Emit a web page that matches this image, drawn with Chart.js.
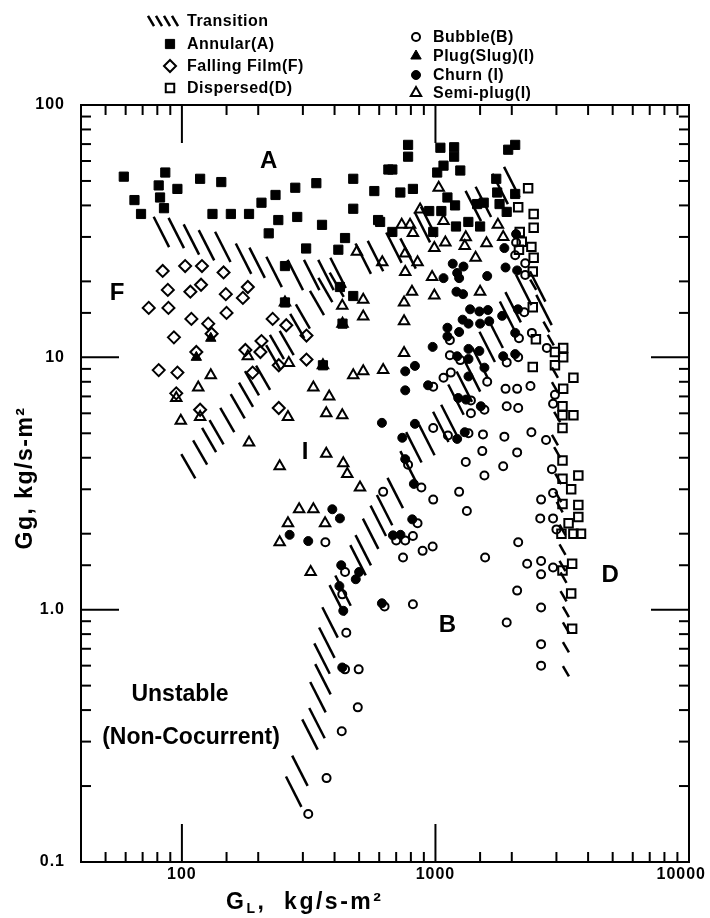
<!DOCTYPE html>
<html>
<head>
<meta charset="utf-8">
<script src="https://cdn.jsdelivr.net/npm/chart.js@4"></script>
<style>
  html, body { margin: 0; padding: 0; background: #fff; }
  canvas { display: block; }
</style>
</head>
<body>
<canvas id="grafico" width="710" height="918"></canvas>
<script>
// Datos: [G_L, Gg]

const annular = [[59,52],[65,42],[69,37],[81,48],[86,54],[82,43],[85,39],[96,46.5],[118,51],[143,49.5],[132,37],[156,37],[184,37],[206,41],[234,44],[220,31],[240,35],[280,47],[285,36],[339,49],[357,33.5],[309,27],[414,26.7],[440,29.7],[474,38.8],[474,51],[574,45.6],[594,35],[652,55.5],[255,23],[420,19],[474,17.5],[255,16.5],[430,13.6],[360,9.3],[780,69.5],[780,62.4],[1046,67.7],[1185,68],[1185,62.4],[1076,57.5],[1016,54],[1253,55],[676,55.5],[727,45],[815,46.5],[2063,69.5],[1936,66.5],[1737,51],[1752,45],[2063,44.4],[945,38],[1055,38],[1195,40],[1348,34.4],[1500,33],[1460,40.5],[1790,40.5],[1910,37.7],[980,31.4],[1205,33],[676,31.4],[605,34.4],[1115,43],[1550,41]];

const fallingFilm = [[84,22],[103,23],[120,23],[146,21.7],[88,18.5],[108,18.2],[119,19.4],[149,17.8],[182,19],[174,17.2],[74,15.7],[88.5,15.7],[109,14.2],[127,13.6],[150,15],[93,12],[131,12.4],[114,10.5],[178,10.7],[206,11.6],[204,10.5],[228,14.2],[258,13.4],[310,12.2],[310,9.8],[81,8.9],[96,8.7],[95,7.2],[118,6.2],[190,8.7],[241,9.3],[241,6.3]];

const dispersed = [[2320,46.8],[2120,39.3],[2440,37],[2440,32.6],[2150,31.4],[2190,28.7],[2390,27.4],[2440,24.8],[2420,21.9],[2135,26.7],[2420,15.8],[2490,11.8],[2960,10.5],[3190,10.9],[3190,10],[2420,9.15],[2960,9.3],[3500,8.3],[3190,7.5],[3170,6.4],[3500,5.9],[3170,5.9],[3170,5.25],[3170,3.9],[3170,3.3],[3660,3.4],[3430,3.0],[3660,2.6],[3170,2.62],[3660,2.33],[3350,2.2],[3140,2.0],[3500,2.0],[3750,2.0],[3460,1.52],[3170,1.43],[3430,1.16],[3460,0.84]];

const bubble = [[2080,28.5],[2063,25.4],[2260,23.6],[2260,21.2],[2240,15.1],[2135,11.9],[2400,12.5],[1140,11.7],[1140,10.2],[1253,9.75],[1910,9.55],[2120,10],[2750,10.9],[1076,8.3],[1150,8.7],[1600,8],[980,7.65],[1890,7.5],[2100,7.5],[2370,7.7],[2960,7.1],[2910,6.55],[1380,6.75],[1380,6.0],[1560,6.2],[1910,6.4],[2120,6.3],[980,5.25],[1120,4.9],[1350,5.0],[1540,4.95],[1870,4.85],[2390,5.05],[2730,4.7],[1530,4.25],[2100,4.2],[1317,3.85],[1850,3.7],[1560,3.4],[780,3.75],[2880,3.6],[880,3.05],[622,2.93],[1240,2.93],[980,2.73],[1330,2.46],[2610,2.73],[2910,2.9],[2590,2.3],[2910,2.3],[3000,2.08],[850,2.2],[700,1.88],[760,1.88],[815,1.96],[745,1.61],[890,1.71],[975,1.78],[1570,1.61],[2120,1.85],[2300,1.52],[2610,1.56],[2910,1.47],[2610,1.38],[2100,1.19],[630,1.03],[815,1.05],[2610,1.02],[1910,0.89],[2610,0.73],[2610,0.6],[368,1.85],[440,1.41],[429,1.15],[445,0.81],[440,0.58],[498,0.58],[494,0.41],[427,0.33],[372,0.215],[315,0.155]];

const plug = [[130,11.9],[114,10]];

const churn = [[615,5.5],[392,2.5],[420,2.3],[266,1.98],[315,1.87],[425,1.5],[500,1.41],[485,1.32],[418,1.24],[433,0.99],[429,0.59],[615,1.06],[1218,21.6],[1290,22.9],[1170,23.5],[1076,20.6],[1240,20.6],[1600,21],[1870,27.1],[1890,22.7],[2100,22.1],[2080,30.8],[1210,18.2],[1285,17.8],[1370,15.5],[1490,15.2],[1610,15.4],[1833,14.6],[2115,15.5],[1280,14.1],[1350,13.6],[1500,13.6],[1630,13.9],[1115,13.1],[1240,12.6],[1115,12.1],[2063,12.5],[975,11],[1350,10.8],[1490,10.6],[1218,10.1],[1350,9.85],[1850,10.1],[2063,10.3],[1560,9.1],[830,9.25],[760,8.8],[1350,8.4],[935,7.75],[760,7.4],[1230,6.9],[1320,6.8],[1510,6.4],[830,5.45],[740,4.8],[1218,4.75],[1305,5.05],[760,3.95],[822,3.15],[810,2.28],[680,1.97],[728,1.98]];

const semiPlug = [[116,7.6],[130,8.5],[99,5.6],[118,5.8],[184,4.6],[243,3.7],[264,9.5],[262,5.8],[330,7.6],[381,7.0],[371,6.0],[429,5.9],[371,4.15],[433,3.8],[449,3.45],[504,3.05],[474,8.5],[519,8.8],[622,8.9],[519,14.5],[519,16.9],[429,16],[182,10.1],[95,6.9],[290,2.5],[330,2.5],[490,26.2],[617,23.8],[262,2.2],[367,2.2],[243,1.85],[322,1.41],[870,38.5],[1076,34.7],[736,33.5],[794,33.5],[815,31.1],[1094,28.5],[990,27.1],[1305,27.6],[1317,29.9],[1763,33.5],[1850,30],[760,25.8],[850,23.8],[760,21.8],[970,20.8],[1440,24.8],[1590,28.3],[1500,18.2],[1030,47],[808,18.2],[990,17.6],[752,16.5],[752,13.9],[752,10.4],[255,16.5],[430,13.6],[360,9.3]];

// Zonas de transicion (rayado)
const transicionLarga = [[83,31.4],[95,31.1],[109,29.3],[125,27.8],[145,27.4],[175,24.6],[198,23.7],[231,21.8],[280,21.2],[325,21.2],[370,21.2],[413,21.6],[519,24.6],[580,25.2],[686,27.2],[780,25.8],[888,32.8],[940,34.4],[1410,39.8],[1545,41.3],[1800,46.5],[2000,49.5],[276,0.19],[292,0.23],[320,0.32],[341,0.355],[344,0.45],[360,0.53],[357,0.64],[373,0.74],[384,0.89],[410,1.09],[432,1.19],[495,1.57],[519,1.72],[555,2.0],[595,2.25],[630,2.48],[694,2.9],[780,3.7],[822,4.4],[925,4.7],[1050,5.3],[1130,5.65],[1205,6.8],[1300,7.65],[1400,8.4],[1500,9.5],[1600,11],[1720,12.5],[1925,14.5],[2025,15.8],[2230,18.5],[2530,19.1],[2680,15.4]];
const transicionMedia = [[106,3.7],[118,4.2],[128,4.7],[137,5.05],[151,5.65],[166,6.4],[179,7.1],[189,7.9],[209,8.3],[229,10],[237,11],[259,11.4],[285,13.3],[300,14.5],[341,16.4],[368,18.5],[408,19.4]];
const transicionCorta = [[2430,19.4],[2740,13.2],[2850,11.7],[2960,8.7],[2960,7.6],[3020,5.8],[2960,4.7],[3020,4.2],[3050,3.3],[3050,2.8],[3090,2.55],[3170,2.07],[3170,1.73],[3170,1.49],[3200,1.34],[3200,1.13],[3270,0.98],[3270,0.85],[3270,0.71],[3270,0.57]];

// Ejes
const xMin = 40, xMax = 10000;
const yMin = 0.1, yMax = 100;
const xTickLabels = [[100, '100'], [1000, '1000'], [10000, '10000']];
const yTickLabels = [[0.1, '0.1'], [1, '1.0'], [10, '10'], [100, '100']];

const regiones = [
  ['A', 220, 60], ['F', 55.5, 18], ['I', 306, 4.2], ['B', 1115, 0.87], ['D', 4885, 1.37]
];

const toXY = (arr) => arr.map(([x, y]) => ({ x, y }));
const NEGRO = '#000';
const FONT = '"Liberation Sans", Arial, sans-serif';

const hueco = 'rgba(0,0,0,0)';
const series = [
  { label: 'Annular(A)', data: annular, pointStyle: 'rect', pointRadius: 6.5, bg: NEGRO, bw: 1 },
  { label: 'Falling Film(F)', data: fallingFilm, pointStyle: 'rectRot', pointRadius: 6, bg: hueco, bw: 2 },
  { label: 'Dispersed(D)', data: dispersed, pointStyle: 'rect', pointRadius: 6, bg: hueco, bw: 2 },
  { label: 'Bubble(B)', data: bubble, pointStyle: 'circle', pointRadius: 4, bg: hueco, bw: 2 },
  { label: 'Plug(Slug)(I)', data: plug, pointStyle: 'triangle', pointRadius: 6, bg: NEGRO, bw: 1 },
  { label: 'Churn (I)', data: churn, pointStyle: 'circle', pointRadius: 4.5, bg: NEGRO, bw: 1 },
  { label: 'Semi-plug(I)', data: semiPlug, pointStyle: 'triangle', pointRadius: 6, bg: hueco, bw: 2 },
  { label: 'Transition', data: transicionLarga, pointStyle: 'line', pointRadius: 17, bg: NEGRO, bw: 2.5, rot: 63 },
  { label: 'Transition', data: transicionMedia, pointStyle: 'line', pointRadius: 14, bg: NEGRO, bw: 2.5, rot: 60 },
  { label: 'Transition', data: transicionCorta, pointStyle: 'line', pointRadius: 6, bg: NEGRO, bw: 2.5, rot: 60 }
];

const esMayor = (v) => Math.abs(Math.log10(v) - Math.round(Math.log10(v))) < 1e-6;

function linea(ctx, x1, y1, x2, y2) {
  ctx.beginPath();
  ctx.moveTo(x1, y1);
  ctx.lineTo(x2, y2);
  ctx.stroke();
}

// Dibujo el marco, las marcas, los textos y la leyenda
const decoracion = {
  id: 'decoracion',
  afterDraw(chart) {
    const { ctx, chartArea: a, scales: { x, y } } = chart;
    ctx.save();
    ctx.strokeStyle = NEGRO;
    ctx.fillStyle = NEGRO;
    ctx.lineWidth = 2;
    ctx.strokeRect(a.left, a.top, a.right - a.left, a.bottom - a.top);

    x.ticks.forEach((t) => {
      if (t.value <= xMin || t.value >= xMax) return;
      const px = x.getPixelForValue(t.value);
      const len = esMayor(t.value) ? 38 : 10;
      linea(ctx, px, a.bottom, px, a.bottom - len);
      linea(ctx, px, a.top, px, a.top + len);
    });
    y.ticks.forEach((t) => {
      if (t.value <= yMin * 1.0001 || t.value >= yMax * 0.9999) return;
      const py = y.getPixelForValue(t.value);
      const len = esMayor(t.value) ? 38 : 10;
      linea(ctx, a.left, py, a.left + len, py);
      linea(ctx, a.right, py, a.right - len, py);
    });

    ctx.font = 'bold 16px ' + FONT;
    ctx.letterSpacing = '1px';
    ctx.textBaseline = 'middle';
    xTickLabels.forEach(([v, txt]) => {
      const px = x.getPixelForValue(v);
      if (v === xMax) {
        ctx.textAlign = 'right';
        ctx.fillText(txt, px + 17, a.bottom + 13);
      } else {
        ctx.textAlign = 'center';
        ctx.fillText(txt, px, a.bottom + 13);
      }
    });
    ctx.textAlign = 'right';
    yTickLabels.forEach(([v, txt]) => {
      ctx.fillText(txt, a.left - 16, y.getPixelForValue(v));
    });

    // Titulos de los ejes
    ctx.font = 'bold 23px ' + FONT;
    ctx.letterSpacing = '2.5px';
    ctx.textAlign = 'left';
    let tx = 226, ty = 903;
    ctx.fillText('G', tx, ty);
    tx += ctx.measureText('G').width;
    ctx.font = 'bold 14px ' + FONT;
    ctx.fillText('L', tx, ty + 6);
    tx += ctx.measureText('L').width;
    ctx.font = 'bold 23px ' + FONT;
    ctx.fillText(',  kg/s-m²', tx, ty);

    ctx.letterSpacing = '1.5px';
    ctx.save();
    ctx.translate(26, 478);
    ctx.rotate(-Math.PI / 2);
    ctx.textAlign = 'center';
    ctx.fillText('Gg, kg/s-m²', 0, 0);
    ctx.restore();

    // Letras de las regiones
    ctx.font = 'bold 24px ' + FONT;
    ctx.letterSpacing = '0px';
    ctx.textAlign = 'center';
    regiones.forEach(([txt, vx, vy]) => {
      ctx.fillText(txt, x.getPixelForValue(vx), y.getPixelForValue(vy));
    });
    ctx.font = 'bold 23px ' + FONT;
    ctx.fillText('Unstable', 180, 695);
    ctx.fillText('(Non-Cocurrent)', 191, 738);

    // Leyenda
    const items = [
      [series[0], 170, 44], [series[1], 170, 66], [series[2], 170, 88],
      [series[3], 416, 37], [series[4], 416, 56], [series[5], 416, 75], [series[6], 416, 93]
    ];
    ctx.font = 'bold 16px ' + FONT;
    ctx.letterSpacing = '0.5px';
    ctx.textAlign = 'left';
    items.forEach(([s, lx, ly]) => {
      ctx.lineWidth = s.bw;
      ctx.fillStyle = s.bg;
      Chart.helpers.drawPoint(ctx, { pointStyle: s.pointStyle, radius: s.pointRadius, rotation: 0, borderWidth: s.bw }, lx, ly);
      ctx.fillStyle = NEGRO;
      ctx.fillText(s.label, lx + 17, ly + 1);
    });
    ctx.lineWidth = 2.5;
    [151, 159, 167, 175].forEach((lx) => {
      Chart.helpers.drawPoint(ctx, { pointStyle: 'line', radius: 6, rotation: 60, borderWidth: 2.5 }, lx, 21);
    });
    ctx.fillText('Transition', 187, 22);
    ctx.restore();
  }
};

const ctx = document.getElementById('grafico');

const chart = new Chart(ctx, {
  type: 'scatter',
  data: {
    datasets: series.map((s) => ({
      label: s.label,
      data: toXY(s.data),
      pointStyle: s.pointStyle,
      pointRadius: s.pointRadius,
      pointHoverRadius: s.pointRadius,
      pointRotation: s.rot || 0,
      backgroundColor: s.bg,
      borderColor: NEGRO,
      borderWidth: s.bw
    }))
  },
  options: {
    responsive: false,
    animation: false,
    layout: { padding: { left: 81, right: 21, top: 105, bottom: 56 } },
    plugins: { legend: { display: false }, tooltip: { enabled: false } },
    scales: {
      x: {
        type: 'logarithmic',
        min: xMin,
        max: xMax,
        grid: { display: false, drawTicks: false },
        border: { display: false },
        ticks: { display: false }
      },
      y: {
        type: 'logarithmic',
        min: yMin,
        max: yMax,
        grid: { display: false, drawTicks: false },
        border: { display: false },
        ticks: { display: false }
      }
    }
  },
  plugins: [decoracion]
});
</script>
</body>
</html>
